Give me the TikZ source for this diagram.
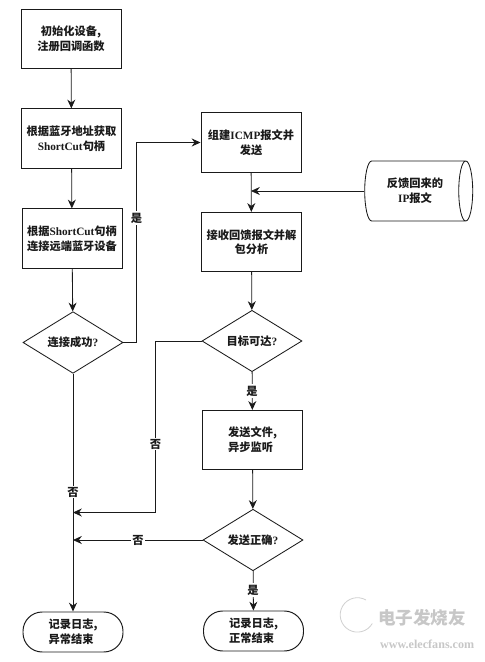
\documentclass[tikz,border=0pt]{standalone}
\usepackage{fontspec}
\usepackage{xcolor}
\usetikzlibrary{positioning,arrows.meta,shapes.geometric}
\setmainfont{Liberation Serif}
\newfontfamily\cjk{Noto Sans CJK SC}
\definecolor{inkline}{HTML}{1A1A1A}
\begin{document}
\begin{tikzpicture}[>={Stealth[length=2.2mm,width=2mm]},
    every node/.style={font=\fontsize{8}{10.4}\selectfont\bfseries, text=inkline},
    stepbox/.style={draw=inkline, line width=0.7pt, minimum width=2.5cm, minimum height=1.48cm,
                 inner sep=0pt, align=center},
    check/.style={draw=inkline, line width=0.6pt, shape=diamond, minimum width=2.5cm, minimum height=1.47cm,
                 inner sep=0pt, align=center},
    finish/.style={draw=inkline, line width=0.7pt, rounded corners=0.48cm, minimum width=2.5cm,
                 minimum height=1cm, inner sep=0pt, align=left},
    store/.style={draw=inkline, line width=0.6pt, shape=cylinder, shape aspect=0.55, minimum width=1.5cm,
                 minimum height=2.7cm, inner sep=0pt, align=center},
    link/.style={->, draw=inkline, line width=0.6pt},
    answer/.style={fill=white, inner sep=1pt}]
  \useasboundingbox (0,0) rectangle (12.1,-16.55);
  % left column
  \node[stepbox] (init) at (1.775,-0.975) {{\cjk 初始化设备,}\\{\cjk 注册回调函数}};
  \node[stepbox] (addr) at (1.7875,-3.4625) {{\cjk 根据蓝牙地址获取}\\ShortCut{\cjk 句柄}};
  \node[stepbox] (conn) at (1.8,-5.9625) {{\cjk 根据}ShortCut{\cjk 句柄}\\{\cjk 连接远端蓝牙设备}};
  \node[check] (okconn) at (1.825,-8.5625) {{\cjk 连接成功}?};
  \node[finish] (endfail) at (1.825,-15.8) {{\cjk 记录日志,}\\{\cjk 异常结束}};
  % right column
  \node[stepbox] (icmp) at (6.275,-3.5625) {{\cjk 组建}ICMP{\cjk 报文并}\\{\cjk 发送}};
  \node[stepbox] (recv) at (6.2875,-6.05) {{\cjk 接收回馈报文并解}\\{\cjk 包分析}};
  \node[check] (reach) at (6.3,-8.525) {{\cjk 目标可达}?};
  \node[stepbox, align=left] (send) at (6.3125,-11) {{\cjk 发送文件,}\\{\cjk 异步监听}};
  \node[check] (oksend) at (6.325,-13.5) {{\cjk 发送正确}?};
  \node[finish] (endgood) at (6.3375,-15.775) {{\cjk 记录日志,}\\{\cjk 正常结束}};
  \node[store] (reply) at (10.375,-4.775) {{\cjk 反馈回来的}\\IP{\cjk 报文}};
  % bends
  \coordinate (elbowa) at (3.4125,-3.5625);
  \coordinate (elbowb) at (3.875,-12.8125);
  \draw[link] (init) -- (addr);
  \draw[link] (addr) -- (conn);
  \draw[link] (conn) -- (okconn);
  \draw[link] (okconn.south) -- (endfail.north);
  \draw[link] (okconn.east) -| (elbowa) -- (icmp.west);
  \draw[link] (icmp) -- (recv);
  \draw[link] (reply.west) -- (reply.west -| icmp.south);
  \draw[link] (recv) -- (reach);
  \draw[link] (reach) -- (send);
  \draw[link] (send) -- (oksend);
  \draw[link] (oksend) -- (endgood);
  \draw[link] (reach.west) -| (elbowb) -- (elbowb -| endfail.north);
  \draw[link] (oksend.west) -- (oksend.west -| endfail.north);
  % answers on the lines
  \node[answer] (yesa) at (3.4125,-5.45) {\cjk 是};
  \node[answer] (noa) at (1.825,-12.3) {\cjk 否};
  \node[answer] (nob) at (3.89,-11.1) {\cjk 否};
  \node[answer] (noc) at (3.45,-13.5) {\cjk 否};
  \node[answer] (yesb) at (6.3,-9.775) {\cjk 是};
  \node[answer] (yesc) at (6.325,-14.75) {\cjk 是};
  % site mark
  \draw[black!18, line width=0.6pt] (9.15,-15) arc[start angle=60, end angle=330, radius=0.43];
  \node[font=\fontsize{12.5}{13}\selectfont\bfseries, text=black!22] (mark) at (10.55,-15.45) {\cjk 电子发烧友};
  \node[font=\fontsize{8.6}{9}\selectfont\bfseries, text=black!22] (site) at (10.68,-16.1) {www.elecfans.com};
\end{tikzpicture}
\end{document}
